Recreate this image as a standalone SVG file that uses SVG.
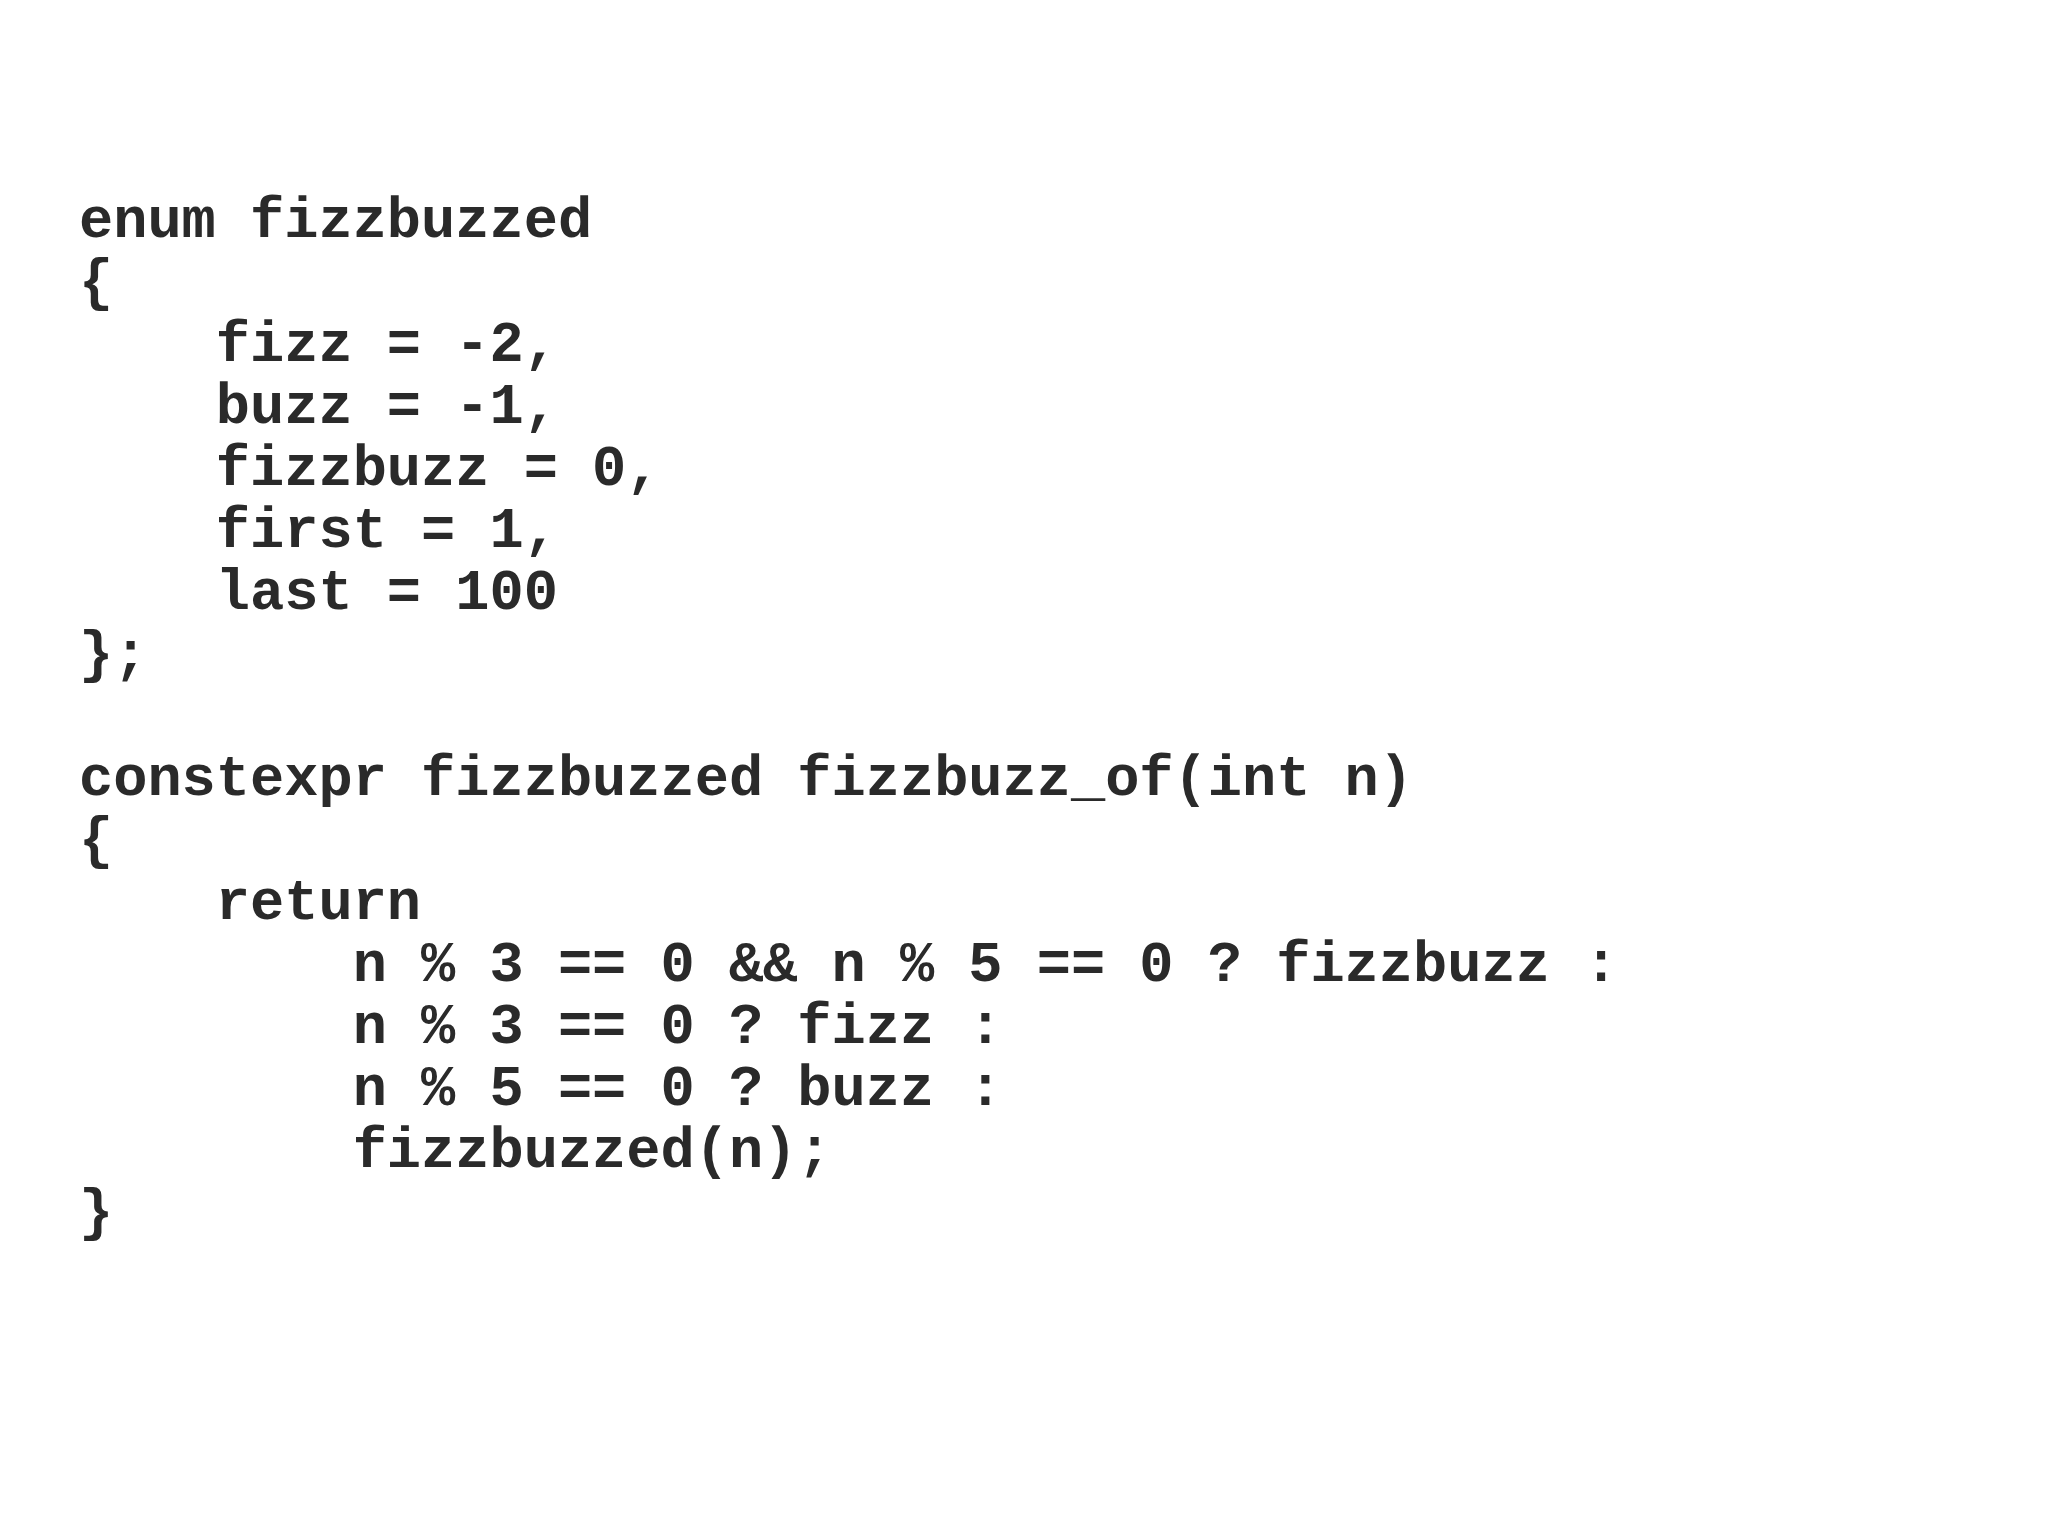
<svg xmlns="http://www.w3.org/2000/svg" width="2048" height="1536" viewBox="0 0 2048 1536">
<style>text{font-family:"Liberation Mono","Courier New",monospace;font-weight:bold;font-size:57px;fill:#2a2a2a;white-space:pre}</style>
<rect width="2048" height="1536" fill="#fff"/>
<g id="code">
<text x="79" y="237" xml:space="preserve">enum fizzbuzzed</text>
<text x="79" y="299" xml:space="preserve">{</text>
<text x="79" y="361" xml:space="preserve">    fizz = -2,</text>
<text x="79" y="423" xml:space="preserve">    buzz = -1,</text>
<text x="79" y="485" xml:space="preserve">    fizzbuzz = 0,</text>
<text x="79" y="547" xml:space="preserve">    first = 1,</text>
<text x="79" y="609" xml:space="preserve">    last = 100</text>
<text x="79" y="671" xml:space="preserve">};</text>
<text x="79" y="795" xml:space="preserve">constexpr fizzbuzzed fizzbuzz_of(int n)</text>
<text x="79" y="857" xml:space="preserve">{</text>
<text x="79" y="919" xml:space="preserve">    return</text>
<text x="79" y="981" xml:space="preserve">        n % 3 == 0 &amp;&amp; n % 5 == 0 ? fizzbuzz :</text>
<text x="79" y="1043" xml:space="preserve">        n % 3 == 0 ? fizz :</text>
<text x="79" y="1105" xml:space="preserve">        n % 5 == 0 ? buzz :</text>
<text x="79" y="1167" xml:space="preserve">        fizzbuzzed(n);</text>
<text x="79" y="1229" xml:space="preserve">}</text>
</g>
</svg>
